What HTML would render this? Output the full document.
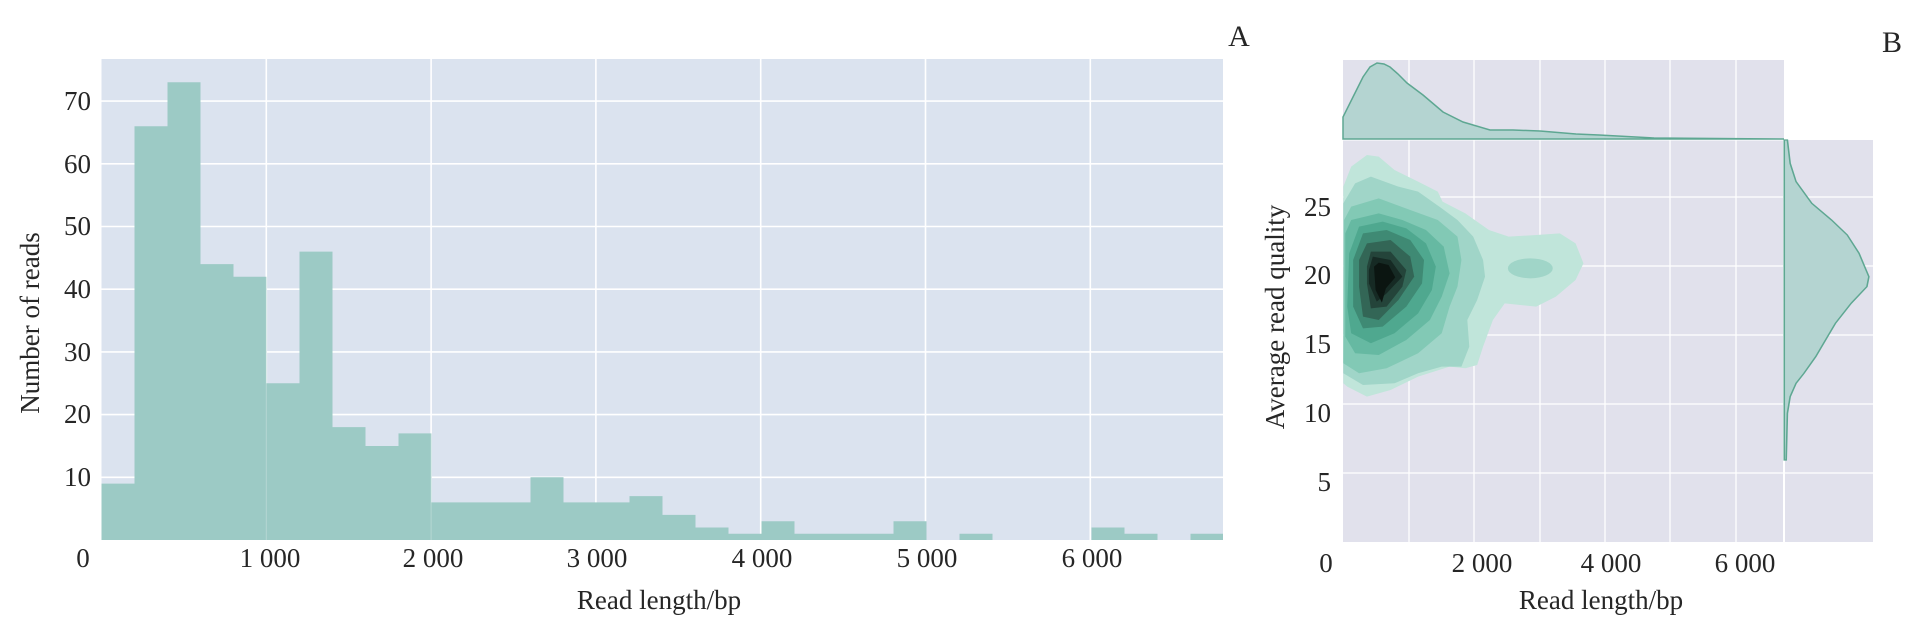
<!DOCTYPE html>
<html><head><meta charset="utf-8"><style>
html,body{margin:0;padding:0;background:#fff;}
svg{display:block;}
text{font-family:"Liberation Serif",serif;fill:#262626;}
</style></head><body>
<svg width="1914" height="626" viewBox="0 0 1914 626" xmlns="http://www.w3.org/2000/svg">
<!-- Panel A -->
<rect x="101.5" y="59" width="1121.5" height="481" fill="#dbe3ef"/>
<g stroke="#fff" stroke-width="1.6">
<line x1="101.5" x2="1223" y1="477.3" y2="477.3"/>
<line x1="101.5" x2="1223" y1="414.6" y2="414.6"/>
<line x1="101.5" x2="1223" y1="351.9" y2="351.9"/>
<line x1="101.5" x2="1223" y1="289.2" y2="289.2"/>
<line x1="101.5" x2="1223" y1="226.5" y2="226.5"/>
<line x1="101.5" x2="1223" y1="163.8" y2="163.8"/>
<line x1="101.5" x2="1223" y1="101.1" y2="101.1"/>
<line y1="59" y2="540" x1="266.3" x2="266.3"/>
<line y1="59" y2="540" x1="431.1" x2="431.1"/>
<line y1="59" y2="540" x1="595.9" x2="595.9"/>
<line y1="59" y2="540" x1="760.7" x2="760.7"/>
<line y1="59" y2="540" x1="925.5" x2="925.5"/>
<line y1="59" y2="540" x1="1090.3" x2="1090.3"/>
</g>
<g fill="#9ccac5">
<path d="M101.5 540 V483.6 H134.5 V126.2 H167.5 V82.3 H200.5 V264.1 H233.5 V276.7 H266.5 V383.3 H299.5 V251.6 H332.5 V427.1 H365.5 V446.0 H398.5 V433.4 H431.5 V502.4 H530.5 V477.3 H563.5 V502.4 H629.5 V496.1 H662.5 V514.9 H695.5 V527.5 H728.5 V533.7 H761.5 V521.2 H794.5 V533.7 H893.5 V521.2 H926.5 V540 H959.5 V533.7 H992.5 V540 H1091.5 V527.5 H1124.5 V533.7 H1157.5 V540 H1190.5 V533.7 H1223 V540 Z"/>
</g>
<g stroke="#fff" stroke-width="1" opacity="0.25">
<line y1="59" y2="540" x1="266.3" x2="266.3"/>
<line y1="59" y2="540" x1="431.1" x2="431.1"/>
</g>
<g font-size="27" text-anchor="end">
<text x="91" y="486">10</text>
<text x="91" y="423">20</text>
<text x="91" y="361">30</text>
<text x="91" y="298">40</text>
<text x="91" y="235">50</text>
<text x="91" y="173">60</text>
<text x="91" y="110">70</text>
</g>
<g font-size="27" text-anchor="middle">
<text x="83" y="567">0</text>
<text x="270" y="567">1 000</text>
<text x="433" y="567">2 000</text>
<text x="597" y="567">3 000</text>
<text x="762" y="567">4 000</text>
<text x="927" y="567">5 000</text>
<text x="1092" y="567">6 000</text>
<text x="659" y="609">Read length/bp</text>
<text transform="translate(39,323) rotate(-90)">Number of reads</text>
<text x="1239" y="46" font-size="30">A</text>
<text x="1892" y="52" font-size="30">B</text>
</g>

<!-- Panel B -->
<rect x="1343" y="60" width="441" height="79" fill="#e1e1ec"/>
<rect x="1343" y="140" width="441" height="402" fill="#e1e1ec"/>
<rect x="1784" y="140" width="89" height="402" fill="#e1e1ec"/>
<g stroke="#fff" stroke-width="1.3">
<line x1="1343" x2="1873" y1="197" y2="197"/>
<line x1="1343" x2="1873" y1="266" y2="266"/>
<line x1="1343" x2="1873" y1="335" y2="335"/>
<line x1="1343" x2="1873" y1="404" y2="404"/>
<line x1="1343" x2="1873" y1="473" y2="473"/>
<line y1="60" y2="542" x1="1409" x2="1409"/>
<line y1="60" y2="542" x1="1474" x2="1474"/>
<line y1="60" y2="542" x1="1540" x2="1540"/>
<line y1="60" y2="542" x1="1605" x2="1605"/>
<line y1="60" y2="542" x1="1670" x2="1670"/>
<line y1="60" y2="542" x1="1736" x2="1736"/>
<line x1="1343" x2="1784" y1="139.5" y2="139.5" stroke-width="2"/>
<line x1="1784" x2="1784" y1="140" y2="542" stroke-width="2"/>
</g>
<path d="M1343 139 L1343 117 L1353 97 L1363 77 L1370 67 L1377 63 L1384 64 L1390 67 L1398 74 L1407 83 L1423 95 L1443 112 L1463 122 L1490 130 L1513 130 L1540 131 L1576 134 L1599 135 L1654 138 L1784 139 Z" fill="#b4d4d1" stroke="#5ea792" stroke-width="1.5"/>
<g transform="translate(1300,120) scale(0.3937,0.3333)">
<path d="M1230 60 L1238 60 L1245 130 L1260 185 L1300 250 L1350 300 L1390 345 L1420 400 L1445 470 L1440 500 L1400 550 L1360 610 L1335 660 L1310 710 L1280 760 L1260 790 L1245 830 L1238 880 L1235 1020 L1230 1020 Z" fill="#b4d4d1" stroke="#5ea792" stroke-width="4"/>
<path fill="#c0e5da" d="M110 200 L130 140 L170 105 L200 110 L240 150 L300 185 L350 215 L362 245 L420 280 L480 330 L530 350 L600 345 L660 340 L700 370 L720 430 L700 480 L650 530 L600 560 L520 550 L490 600 L465 680 L450 735 L420 745 L380 740 L300 770 L230 810 L170 830 L120 800 L110 790 Z"/>
<path fill="#a0d5c8" d="M110 250 L140 190 L180 170 L250 200 L300 215 L360 265 L400 300 L440 350 L465 420 L470 470 L450 540 L425 600 L430 680 L410 740 L360 740 L300 760 L240 790 L160 795 L110 760 Z"/>
<ellipse fill="#a0d5c8" cx="585" cy="445" rx="57" ry="30"/>
<path fill="#82c9b5" d="M112 300 L130 260 L200 235 L280 270 L350 300 L400 350 L410 420 L400 500 L380 560 L360 640 L300 700 L220 745 L150 760 L110 730 Z"/>
<path fill="#66b9a2" d="M115 340 L130 300 L200 280 L260 300 L320 330 L365 380 L380 460 L360 530 L330 600 L270 660 L200 705 L140 700 L115 650 Z"/>
<path fill="#4fa88f" d="M125 400 L150 320 L210 305 L270 325 L320 370 L345 440 L335 510 L300 580 L240 640 L180 670 L130 640 L120 560 Z"/>
<path fill="#3f8a74" d="M135 420 L160 340 L220 330 L280 360 L315 420 L310 490 L270 560 L210 620 L160 625 L135 560 Z"/>
<path fill="#336656" d="M150 420 L170 370 L230 360 L280 410 L290 470 L250 540 L200 600 L160 590 L150 500 Z"/>
<path fill="#24443a" d="M170 440 L180 395 L230 395 L270 450 L260 500 L220 560 L180 565 L170 490 Z"/>
<path fill="#162a24" d="M175 450 L185 410 L230 420 L260 470 L220 520 L195 545 L175 490 Z"/>
<path fill="#0b1511" d="M188 440 L200 428 L225 435 L242 472 L218 505 L208 548 L192 510 Z"/>
</g>
<g font-size="27" text-anchor="end">
<text x="1331" y="216">25</text>
<text x="1331" y="284">20</text>
<text x="1331" y="353">15</text>
<text x="1331" y="422">10</text>
<text x="1331" y="491">5</text>
</g>
<g font-size="27" text-anchor="middle">
<text x="1326" y="572">0</text>
<text x="1482" y="572">2 000</text>
<text x="1611" y="572">4 000</text>
<text x="1745" y="572">6 000</text>
<text x="1601" y="609">Read length/bp</text>
<text transform="translate(1284,317) rotate(-90)">Average read quality</text>
</g>
</svg>
</body></html>
